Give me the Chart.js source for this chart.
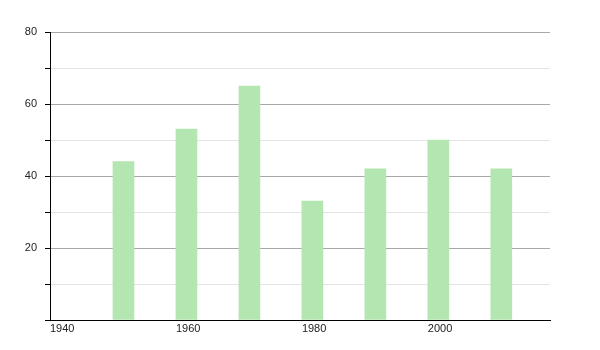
<!DOCTYPE html>
<html>
<head>
<meta charset="utf-8">
<script src="https://cdn.jsdelivr.net/npm/chart.js@4/dist/chart.umd.min.js"></script>
<style>
html,body{margin:0;padding:0;background:#fff;}
#wrap{width:600px;height:350px;position:relative;}
</style>
</head>
<body>
<div id="wrap"><canvas id="c" width="600" height="350"></canvas></div>
<script>
const years = [1950, 1960, 1970, 1980, 1990, 2000, 2010];
const values = [44, 53, 65, 33, 42, 50, 42];
const xTickLabels = [1940, 1960, 1980, 2000];
const yTickLabels = [20, 40, 60, 80];

const BAR_YEARS = 10 / 3; // bar spans from the year rightwards
const points = years.map((yr, i) => ({ x: yr + BAR_YEARS / 2, y: values[i] }));

new Chart(document.getElementById('c'), {
  type: 'bar',
  data: {
    datasets: [{
      data: points,
      backgroundColor: '#b3e6b1',
      borderWidth: 0,
      barThickness: 21
    }]
  },
  options: {
    responsive: false,
    animation: false,
    layout: { padding: { left: 0, right: 50, top: 32, bottom: 0 } },
    plugins: { legend: { display: false }, tooltip: { enabled: false } },
    scales: {
      x: {
        type: 'linear',
        min: 1940,
        max: 2019.4,
        offset: false,
        afterBuildTicks: (s) => { s.ticks = xTickLabels.map(v => ({ value: v })); },
        afterFit: (s) => { s.height = 30; },
        ticks: {
          align: 'start',
          maxRotation: 0,
          autoSkip: false,
          padding: 2,
          color: '#222',
          font: { family: 'Liberation Sans, Arial, sans-serif', size: 11 },
          callback: (v) => String(v)
        },
        grid: { display: false, drawTicks: false },
        border: { display: true, color: '#000', width: 1 }
      },
      y: {
        min: 0,
        max: 80,
        afterBuildTicks: (s) => {
          const t = [];
          for (let v = 0; v <= 80; v += 10) t.push({ value: v });
          s.ticks = t;
        },
        afterFit: (s) => { s.width = 50; },
        ticks: {
          padding: 8,
          color: '#222',
          font: { family: 'Liberation Sans, Arial, sans-serif', size: 11 },
          callback: (v) => yTickLabels.includes(v) ? String(v) : ''
        },
        grid: {
          drawTicks: true,
          tickLength: 5,
          tickColor: '#000',
          color: (ctx) => {
            const v = ctx.tick ? ctx.tick.value : 0;
            if (v === 0) return 'rgba(0,0,0,0)';
            return yTickLabels.includes(v) ? '#a8a8a8' : '#e4e4e4';
          }
        },
        border: { display: true, color: '#000', width: 1 }
      }
    }
  }
});
</script>
</body>
</html>
